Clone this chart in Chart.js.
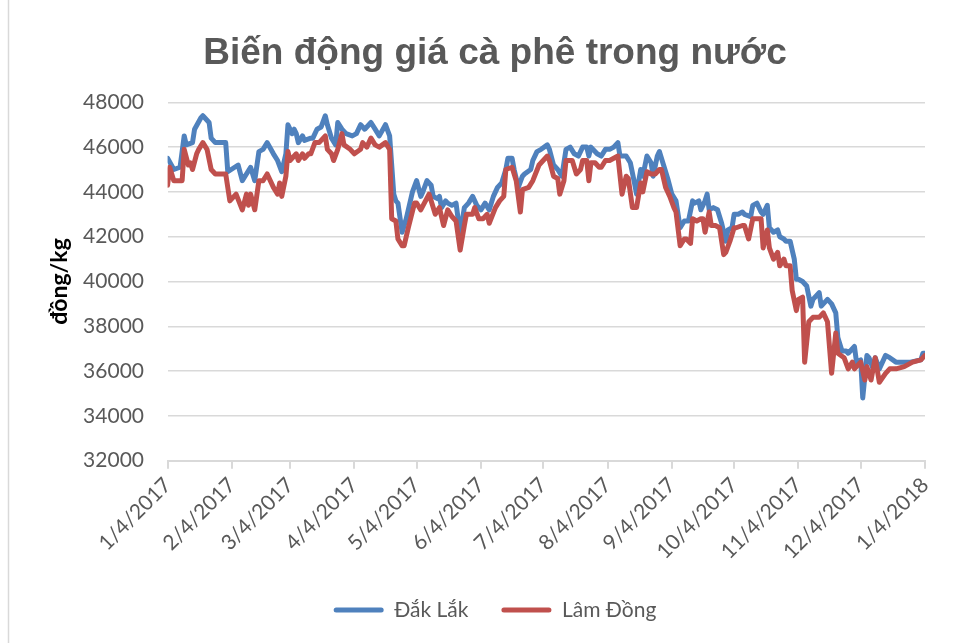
<!DOCTYPE html>
<html>
<head>
<meta charset="utf-8">
<title>Biến động giá cà phê trong nước</title>
<script src="https://cdn.jsdelivr.net/npm/chart.js@4.4.1/dist/chart.umd.min.js"></script>
<style>
  html, body { margin: 0; padding: 0; background: #fff; }
</style>
</head>
<body>
<canvas id="chart" width="974" height="643"></canvas>
<script>
// days counted from 1/4/2017, prices in đồng/kg
const dakLakDays = [0, 3, 6, 8, 9, 12, 13, 16, 17, 20, 21, 23, 28, 29, 34, 36, 40, 42, 44, 46, 48, 51, 53, 55, 57,
    58, 60, 61, 62, 63, 65, 66, 69, 70, 72, 74, 76, 77, 79, 81, 82, 84, 86, 89, 91, 93, 95, 97, 98, 100, 102, 105, 107,
    109, 110, 111, 113, 115, 118, 120, 122, 123, 125, 127, 128, 130, 131, 132, 134, 135, 137, 139, 141, 143, 145, 147,
    149, 151, 153, 155, 157, 159, 161, 163, 164, 166, 167, 169, 171, 172, 175, 176, 178, 180, 183, 184, 186, 188, 190,
    192, 194, 196, 198, 200, 202, 203, 204, 207, 209, 211, 213, 215, 217, 218, 221, 223, 225, 226, 228, 229, 231, 233,
    234, 236, 237, 239, 241, 243, 245, 247, 249, 251, 253, 254, 256, 257, 259, 260, 261, 263, 265, 267, 269, 270, 272,
    273, 275, 277, 278, 281, 282, 284, 286, 287, 289, 290, 292, 294, 295, 297, 298, 300, 302, 303, 304, 306, 308, 310,
    311, 314, 315, 318, 320, 322, 323, 325, 327, 328, 331, 332, 334, 335, 337, 338, 340, 341, 343, 346, 348, 351, 355,
    358, 363, 364, 365];
const dakLakPrices = [45500, 45000, 45100, 46500, 46100, 46200, 46800, 47300, 47400, 47100, 46400, 46200, 46200, 44900,
    45200, 44500, 45100, 44500, 45800, 45900, 46200, 45700, 45400, 44900, 45700,
    47000, 46600, 46800, 46600, 46200, 46500, 46300, 46400, 46400, 46800, 46900, 47400, 47000, 46400, 46100, 47100,
    46800, 46600, 46500, 46600, 47000, 46800, 47000, 47100, 46800, 46500, 47000, 46500,
    43900, 43600, 43500, 42200, 42800, 44000, 44500, 43800, 44000, 44500, 44300, 43800, 43700, 43800, 43300, 43600,
    43500, 43400, 43500, 42100, 43300, 43500, 43800,
    43400, 43200, 43500, 43200, 43800, 44200, 44400, 45000, 45500, 45500, 45000, 44200, 44700, 44800, 45000, 45400,
    45800, 45900, 46100, 45900, 45200, 45000, 44700,
    45900, 46000, 45700, 45600, 46000, 46000, 45600, 46000, 45700, 45600, 45900, 45900, 46000, 46200, 45600, 45600,
    45300, 44400, 43900, 45000, 44700, 45600, 45300,
    44700, 45600, 45800, 45200, 44600, 43900, 43600, 42400, 42700, 42700, 43600, 43500, 43600, 43200, 43600, 43900,
    43200, 43300, 43200, 42600, 41800, 42300, 42400,
    43000, 43000, 43100, 43000, 42900, 43400, 43500, 43100, 43000, 43400, 42400, 42200, 42300, 42000, 41900, 41800,
    41800, 41000, 40100, 40100, 40000, 39800, 38900,
    39200, 39500, 38900, 39200, 39000, 38600, 37500, 36900, 36900, 36800, 37100, 36400, 36500, 34800, 36700, 36600,
    36100, 36600, 36100, 36700, 36600, 36400, 36400,
    36400, 36500, 36800, 36800];

const lamDongDays = [0, 1, 3, 7, 8, 10, 11, 12, 14, 15, 17, 19, 21, 23, 28, 30, 33, 36, 38, 39, 40, 42, 44, 46, 48, 51,
    53, 54, 55, 57, 58, 59, 61, 62, 63, 65, 66, 68, 69, 71, 73, 76, 77, 79, 80, 82, 84, 85, 88, 90, 93, 94, 96, 98, 100,
    102, 105, 107, 108, 110, 111, 113, 114, 116, 119, 120, 122, 126, 127, 129, 131, 133, 135, 137, 139, 141, 143, 144,
    147, 148, 150, 152, 154, 155, 158, 160, 162, 163, 166, 168, 170, 171, 174, 176, 179, 180, 183, 184, 186, 188, 189,
    191, 192, 195, 197, 199, 200, 202, 203, 204, 206, 208, 209, 211, 213, 215, 217, 219, 221, 222, 224, 226, 228, 229,
    231, 233, 235, 237, 238, 240, 242, 244, 245, 247, 249, 250, 252, 253, 255, 257, 258, 259, 261, 262, 264, 266, 268,
    269, 271, 273, 274, 277, 278, 280, 282, 284, 286, 287, 289, 290, 292, 294, 295, 297, 298, 300, 301, 303, 304, 306,
    307, 309, 311, 314, 316, 318, 320, 322, 323, 326, 328, 330, 331, 334, 336, 337, 339, 341, 343, 346, 348, 351, 355,
    359, 363, 365];
const lamDongPrices = [44300, 45100, 44500, 44500, 45900, 45200, 45300, 45000, 45700, 45900, 46200, 45900, 45000, 44800,
    44800, 43600, 43900, 43200, 43900, 43400, 43900, 43200, 44500, 44500, 44800, 44200,
    43900, 44400, 43800, 44700, 45800, 45400, 45600, 45700, 45400, 45700, 45500, 45700, 45700, 46200, 46200, 46500,
    45900, 45700, 45400, 45900, 46600, 46100, 45900, 45700, 45900, 46200, 46000, 46400, 46100,
    46000, 46200, 45900, 42800, 42700, 41900, 41600, 41600, 42400, 43500, 43500, 43200, 43900, 43600, 43000, 43300,
    42500, 43200, 42900, 42700, 41400, 42500, 43000,
    43000, 43300, 42800, 42800, 43000, 42600, 43300, 43600, 43800, 45000, 45100, 44500, 43100, 44100, 44200, 44500,
    45200, 45300, 45600, 45400, 44700, 44600, 43900,
    44500, 45400, 45400, 44800, 45000, 45400, 45400, 44500, 45300, 45300, 45100, 45100, 45400, 45400, 45500, 45600,
    43900, 44700, 44600, 43300, 43300, 44400, 44000,
    44900, 44800, 44800, 45000, 45000, 44200, 43800, 43300, 43100, 41600, 41900, 41900, 41700, 42800, 42700, 42800,
    42800, 42200, 43100, 42500, 42500, 42400, 41200,
    41300, 41800, 42400, 42400, 42500, 42500, 41900, 42800, 42800, 42800, 41500, 42300, 41500, 41000, 41300, 40700,
    41000, 40700, 40700, 39600, 38700, 39200, 39300,
    36400, 38200, 38400, 38400, 38600, 38200, 35900, 37700, 36800, 36600, 36100, 36400, 36100, 36400, 35600, 36200,
    35600, 36600, 35500, 35900, 36100, 36100, 36200,
    36400, 36500, 36700];

const monthTicks = [0, 31, 59, 90, 120, 151, 181, 212, 243, 273, 304, 334, 365];
const monthLabels = ["1/4/2017", "2/4/2017", "3/4/2017", "4/4/2017", "5/4/2017", "6/4/2017", "7/4/2017",
    "8/4/2017", "9/4/2017", "10/4/2017", "11/4/2017", "12/4/2017", "1/4/2018"];

const toPoints = (days, prices) => days.map((d, i) => ({ x: d, y: prices[i] }));

const GRAY = "#595959";
const GRID = "#D9D9D9";
const tickFont = { family: "Lato", size: 21 };

// light frame on the left like the Excel chart border
const frame = {
    id: "frame",
    beforeDraw(chart) {
        const ctx = chart.ctx;
        ctx.save();
        ctx.fillStyle = "#fff";
        ctx.fillRect(0, 0, chart.width, chart.height);
        ctx.strokeStyle = GRID;
        ctx.lineWidth = 1.5;
        ctx.beginPath();
        ctx.moveTo(8.5, 0);
        ctx.lineTo(8.5, chart.height);
        ctx.stroke();
        ctx.restore();
    },
};

new Chart(document.getElementById("chart"), {
    type: "line",
    data: {
        datasets: [
            {
                label: "Đắk Lắk",
                data: toPoints(dakLakDays, dakLakPrices),
                borderColor: "#4F81BD",
                backgroundColor: "#4F81BD",
                order: 2,
            },
            {
                label: "Lâm Đồng",
                data: toPoints(lamDongDays, lamDongPrices),
                borderColor: "#C0504D",
                backgroundColor: "#C0504D",
                order: 1,
            },
        ],
    },
    options: {
        responsive: false,
        animation: false,
        elements: {
            line: { borderWidth: 5, tension: 0, borderJoinStyle: "round", borderCapStyle: "round" },
            point: { radius: 0 },
        },
        layout: { padding: { left: 65, right: 49, top: 0, bottom: 12.5 } },
        scales: {
            x: {
                type: "linear",
                min: 0,
                max: 365,
                afterBuildTicks: (scale) => {
                    scale.ticks = monthTicks.map((v) => ({ value: v }));
                },
                afterFit: (scale) => {
                    scale.height = 105.8;
                },
                ticks: {
                    autoSkip: false,
                    minRotation: 45,
                    maxRotation: 45,
                    padding: 4,
                    color: GRAY,
                    font: tickFont,
                    callback: (v) => monthLabels[monthTicks.indexOf(v)],
                },
                grid: { drawOnChartArea: false, color: GRID, lineWidth: 2, tickLength: 8 },
                border: { color: GRID, width: 2 },
            },
            y: {
                min: 32000,
                max: 48000,
                afterFit: (scale) => {
                    scale.width = 102.6;
                },
                ticks: {
                    stepSize: 2000,
                    padding: 23.6,
                    color: GRAY,
                    font: tickFont,
                    callback: (v) => String(v),
                },
                grid: { color: GRID, lineWidth: 1.5, drawTicks: false },
                border: { display: false },
                title: {
                    display: true,
                    text: "đồng/kg",
                    color: "#000",
                    font: { family: "Lato", size: 23, weight: "bold" },
                    padding: { top: -18.8, bottom: 0 },
                },
            },
        },
        plugins: {
            title: {
                display: true,
                text: "Biến động giá cà phê trong nước",
                color: GRAY,
                font: { family: "Liberation Sans", size: 37, weight: "bold" },
                padding: { top: 32, bottom: 25.9 },
            },
            legend: {
                position: "bottom",
                labels: {
                    boxWidth: 50,
                    boxHeight: 5,
                    padding: 33,
                    color: GRAY,
                    font: tickFont,
                    generateLabels: (chart) =>
                        Chart.defaults.plugins.legend.labels
                            .generateLabels(chart)
                            .sort((a, b) => a.datasetIndex - b.datasetIndex)
                            .map((item) => ({ ...item, fillStyle: item.strokeStyle, lineWidth: 0, borderRadius: 2.5 })),
                },
            },
            tooltip: { enabled: false },
        },
    },
    plugins: [frame],
});
</script>
</body>
</html>
